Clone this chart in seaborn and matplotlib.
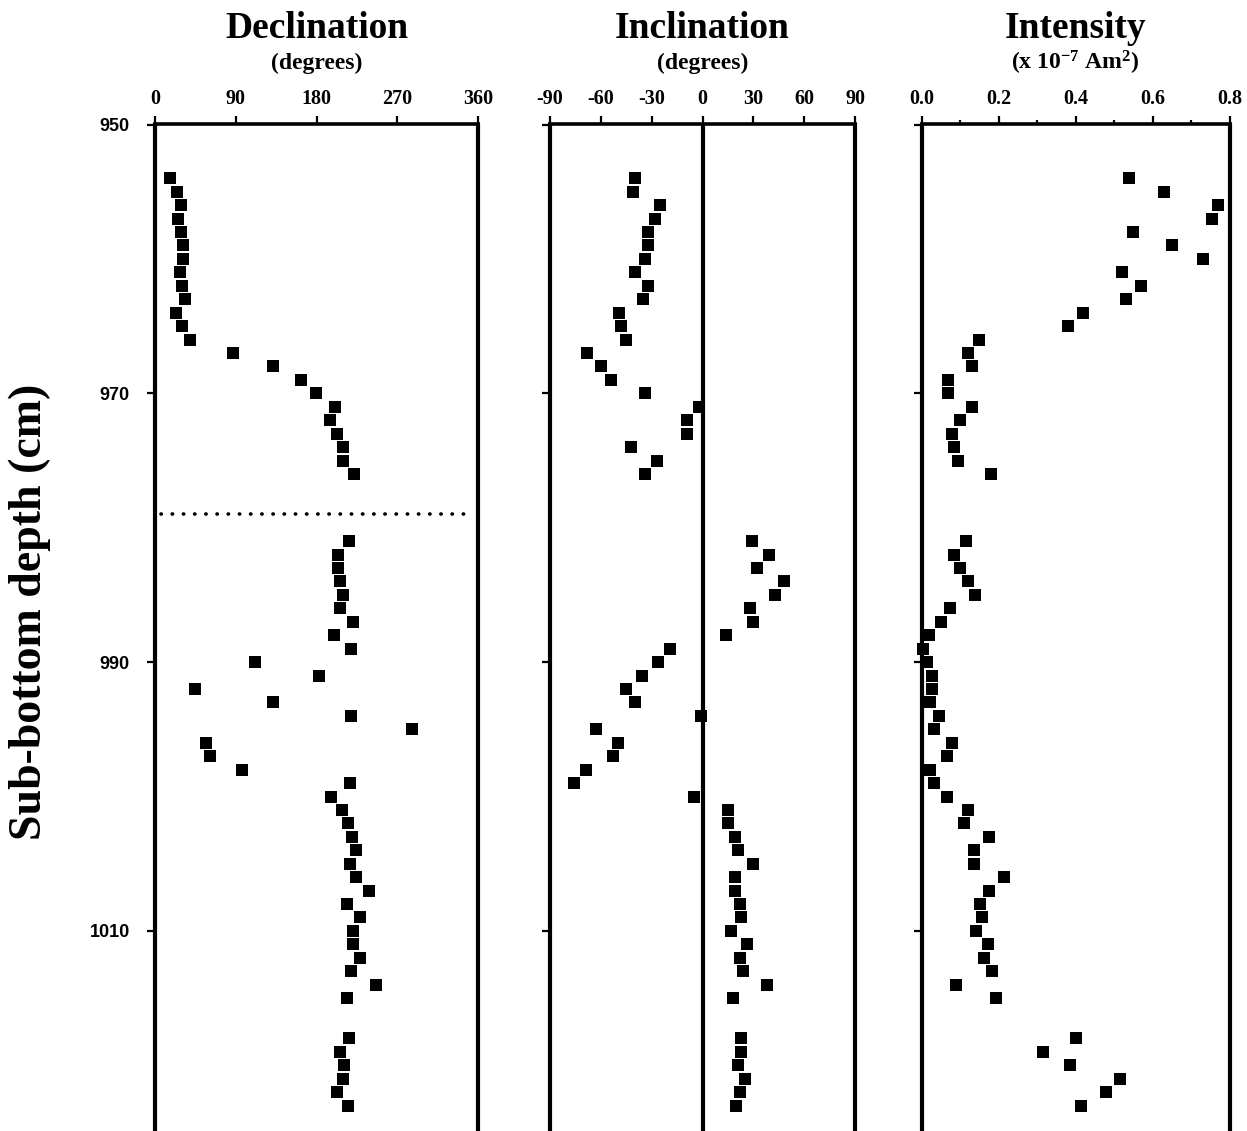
import matplotlib
matplotlib.use("Agg")
import matplotlib.pyplot as plt
import seaborn as sns
import numpy as np
import pandas as pd

# sample depths (cm) shared by the three panels
depth_cm = [954, 955, 956, 957, 958, 959, 960, 961, 962, 963, 964, 965,
            966, 967, 968, 969, 970, 971, 972, 973, 974, 975, 976,
            981, 982, 983, 984, 985, 986, 987, 988, 989, 990, 991, 992,
            993, 994, 995, 996, 997, 998, 999, 1000, 1001, 1002, 1003,
            1004, 1005, 1006, 1007, 1008, 1009, 1010, 1011, 1012, 1013,
            1014, 1015,
            1018, 1019, 1020, 1021, 1022, 1023]

declination = [17, 24, 29, 26, 29, 31, 31, 28, 30, 33, 23, 30, 39, 87, 132,
               163, 179, 201, 195, 203, 210, 210, 222,
               216, 204, 204, 206, 209, 206, 221, 200, 218, 112, 183, 45,
               131, 218, 286, 57, 61, 97, 217, 196, 208,
               215, 220, 224, 217, 224, 238, 214, 229, 221, 221, 228, 218,
               246, 214,
               216, 206, 211, 210, 203, 215]

inclination = [-40, -41, -25, -28, -32, -32, -34, -40, -32, -35, -49, -48,
               -45, -68, -60, -54, -34, -2, -9, -9, -42, -27, -34,
               29, 39, 32, 48, 43, 28, 30, 14, -19, -26, -36, -45, -40, -1,
               -63, -50, -53, -69, -76, -5, 15,
               15, 19, 21, 30, 19, 19, 22, 23, 17, 26, 22, 24, 38, 18,
               23, 23, 21, 25, 22, 20]

intensity = [0.54, 0.63, 0.77, 0.755, 0.55, 0.65, 0.73, 0.52, 0.57, 0.53,
             0.42, 0.38, 0.15, 0.12, 0.13, 0.07, 0.07, 0.13, 0.10, 0.08,
             0.085, 0.095, 0.18,
             0.115, 0.085, 0.10, 0.12, 0.14, 0.075, 0.05, 0.02, 0.005,
             0.013, 0.028, 0.028, 0.023, 0.045, 0.032, 0.078, 0.066, 0.023,
             0.033, 0.065, 0.12,
             0.11, 0.175, 0.137, 0.137, 0.213, 0.175, 0.152, 0.158, 0.142,
             0.174, 0.162, 0.184, 0.09, 0.193,
             0.40, 0.315, 0.385, 0.515, 0.48, 0.415]

polarity_boundary_cm = 979

dec_ticks = [0, 90, 180, 270, 360]
inc_ticks = [-90, -60, -30, 0, 30, 60, 90]
int_ticks = [0.0, 0.2, 0.4, 0.6, 0.8]
int_minor = [0.1, 0.3, 0.5, 0.7]
depth_ticks = [950, 970, 990, 1010]

df = pd.DataFrame({"depth": depth_cm, "dec": declination,
                   "inc": inclination, "int": intensity})

sns.set_theme(style="ticks")
plt.rcParams["font.family"] = ["Liberation Serif", "DejaVu Serif"]
plt.rcParams["font.weight"] = "bold"
plt.rcParams["mathtext.fontset"] = "custom"
plt.rcParams["mathtext.rm"] = "Liberation Serif:bold"
plt.rcParams["mathtext.it"] = "Liberation Serif:bold"
plt.rcParams["mathtext.bf"] = "Liberation Serif:bold"
for key in ["text.color", "axes.labelcolor", "xtick.color", "ytick.color",
            "axes.edgecolor"]:
    plt.rcParams[key] = "black"

W, H = 1247, 1131
fig = plt.figure(figsize=(W / 100, H / 100), dpi=100)
top = 1 - 124.5 / H
panels = [
    (155, 323, "dec", (0, 360), dec_ticks, [str(t) for t in dec_ticks],
     "Declination", "(degrees)"),
    (550, 305, "inc", (-90, 90), inc_ticks, [str(t) for t in inc_ticks],
     "Inclination", "(degrees)"),
    (921.5, 308, "int", (0, 0.8), int_ticks, ["%.1f" % t for t in int_ticks],
     "Intensity", r"(x 10$^{-7}$ Am$^{2}$)"),
]

ymax_depth = 950 + (H - 124.5) / 13.44

axes = []
for i, (x0, w, col, xl, ticks, tlabels, title, sub) in enumerate(panels):
    ax = fig.add_axes([x0 / W, 0, w / W, top])
    sns.scatterplot(data=df, x=col, y="depth", ax=ax, marker="s", s=72,
                    color="black", linewidth=0, zorder=5, clip_on=False)
    ax.set_xlim(*xl)
    ax.set_ylim(ymax_depth, 950)
    ax.set_xlabel("")
    ax.set_ylabel("")
    ax.xaxis.tick_top()
    ax.set_xticks(ticks)
    ax.set_xticklabels(tlabels, fontsize=14.5, fontweight="bold")
    ax.tick_params(axis="x", direction="out", length=6, width=1.6, pad=5,
                   top=True, bottom=False)
    ax.tick_params(axis="y", direction="out", length=6, width=1.6,
                   left=True, right=False)
    ax.set_yticks(depth_ticks)
    if i == 0:
        ax.set_yticklabels([str(t) for t in depth_ticks], fontsize=13,
                           fontweight="bold", family="Liberation Sans")
        ax.tick_params(axis="y", pad=12)
    else:
        ax.set_yticklabels([])
    ax.spines["bottom"].set_visible(False)
    for s in ["left", "right"]:
        ax.spines[s].set_linewidth(3.0)
    ax.spines["top"].set_linewidth(2.6)
    ax.grid(False)
    ax.annotate(title, xy=(0.5, 1 - 28 / H),
                xycoords=("axes fraction", "figure fraction"),
                ha="center", va="center", fontsize=27, fontweight="bold")
    ax.annotate(sub, xy=(0.5, 1 - 63 / H),
                xycoords=("axes fraction", "figure fraction"),
                ha="center", va="center", fontsize=17, fontweight="bold")
    axes.append(ax)

# zero line in the inclination panel
axes[1].axvline(0, color="black", lw=3.0, zorder=3)

# minor ticks on the intensity axis
axes[2].set_xticks(int_minor, minor=True)
axes[2].tick_params(axis="x", which="minor", direction="out", length=3,
                    width=1.6, top=True, bottom=False)

# dotted polarity boundary in the declination panel
axes[0].axhline(polarity_boundary_cm, xmin=0.02, xmax=0.98, color="black",
                lw=2.6, linestyle=(0, (0.1, 3.0)), dash_capstyle="round")

fig.text(30 / W, 1 - 611.5 / H, "Sub-bottom depth (cm)", rotation=90,
         ha="center", va="center", fontsize=33, fontweight="bold")

fig.savefig("out.png", dpi=100, facecolor="white")
